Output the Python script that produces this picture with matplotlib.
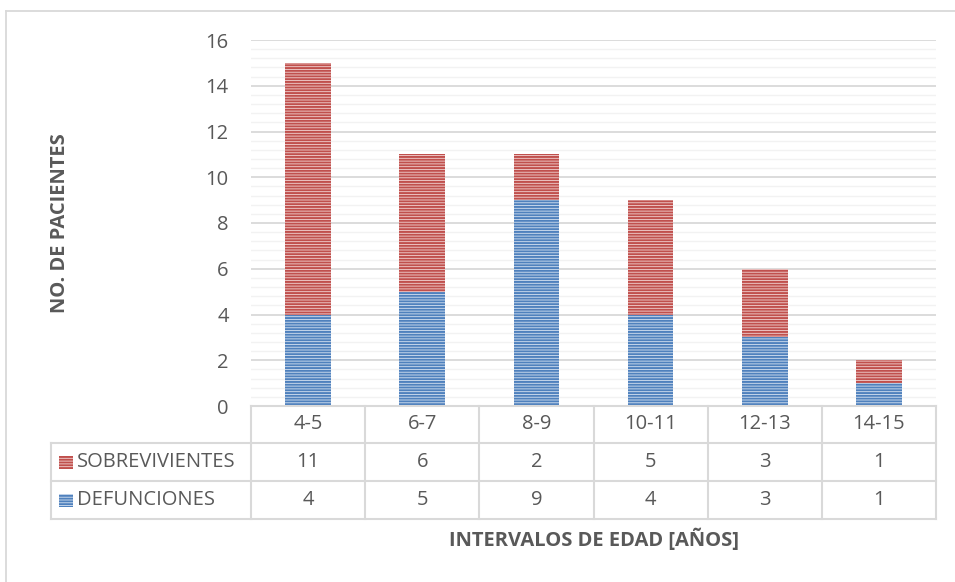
import numpy as np
import matplotlib.pyplot as plt
from matplotlib.lines import Line2D
from matplotlib.patches import Rectangle
from matplotlib.ticker import MultipleLocator

plt.rcParams['font.family'] = ['Open Sans', 'DejaVu Sans']
plt.rcParams['hatch.linewidth'] = 1.4

grupos = ['4-5', '6-7', '8-9', '10-11', '12-13', '14-15']
defunciones = [4, 5, 9, 4, 3, 1]
sobrevivientes = [11, 6, 2, 5, 3, 1]
series = ['SOBREVIVIENTES', 'DEFUNCIONES']

texto = '#595959'
linea = '#D9D9D9'
rojo, rojo_claro = '#C0504D', '#F2D4D3'
azul, azul_claro = '#4F81BD', '#D6E2F1'

W, H = 955, 582
fig = plt.figure(figsize=(W / 100, H / 100), dpi=100)

# marco exterior del grafico
fig.add_artist(Line2D([5.5 / W, 5.5 / W], [0, 1 - 10.7 / H], color=linea, lw=1.3))
fig.add_artist(Line2D([5.5 / W, 1], [1 - 10.7 / H, 1 - 10.7 / H], color=linea, lw=1.3))

x0, x1 = 251, 936
y_top, y_base = 40, 406
ax = fig.add_axes([x0 / W, 1 - y_base / H, (x1 - x0) / W, (y_base - y_top) / H])

x = np.arange(len(grupos))
ax.bar(x, defunciones, 0.4, facecolor=azul_claro, edgecolor=azul, hatch='------', lw=0, zorder=3)
ax.bar(x, sobrevivientes, 0.4, bottom=defunciones, facecolor=rojo_claro, edgecolor=rojo,
       hatch='------', lw=0, zorder=3)

ax.set_xlim(-0.5, len(grupos) - 0.5)
ax.set_ylim(0, 16)
ax.yaxis.set_major_locator(MultipleLocator(2))
ax.yaxis.set_minor_locator(MultipleLocator(0.4))
ax.grid(axis='y', which='major', color=linea, lw=1.3, zorder=1)
ax.grid(axis='y', which='minor', color='#F2F2F2', lw=1.0, zorder=0)
ax.set_xticks([])
ax.tick_params(axis='y', which='both', length=0, pad=16, labelsize=14.5, labelcolor=texto)
for s in ['top', 'right', 'left']:
    ax.spines[s].set_visible(False)
ax.spines['bottom'].set_color(linea)
ax.spines['bottom'].set_linewidth(1.3)

# tabla de datos bajo el eje
cat_px = (x1 - x0) / len(grupos)
tl = 51
t_bottom = 519
tab = fig.add_axes([tl / W, 1 - t_bottom / H, (x1 - tl) / W, (t_bottom - y_base) / H])
xmin = -0.5 - (x0 - tl) / cat_px
tab.set_xlim(xmin, len(grupos) - 0.5)
tab.set_ylim(0, 3)
tab.invert_yaxis()
tab.axis('off')

row_edges = [0, (443 - 406) / 37.7, (481.5 - 406) / 37.7, 3]
kw = dict(color=linea, lw=1.5, clip_on=False)
# bordes horizontales
tab.plot([-0.5, len(grupos) - 0.5], [0, 0], **kw)
for r in row_edges[1:]:
    tab.plot([xmin, len(grupos) - 0.5], [r, r], **kw)
# bordes verticales
for c in np.arange(-0.5, len(grupos), 1):
    tab.plot([c, c], [0, 3], **kw)
tab.plot([xmin, xmin], [row_edges[1], 3], **kw)

fs = 14.5
for i, g in enumerate(grupos):
    tab.text(i, (row_edges[0] + row_edges[1]) / 2, g, ha='center', va='center', fontsize=fs, color=texto)
    tab.text(i, (row_edges[1] + row_edges[2]) / 2, str(sobrevivientes[i]), ha='center', va='center',
             fontsize=fs, color=texto)
    tab.text(i, (row_edges[2] + row_edges[3]) / 2, str(defunciones[i]), ha='center', va='center',
             fontsize=fs, color=texto)

# claves de la leyenda dentro de la tabla
key_w = 14 / cat_px
for k, (nombre, fc, ec) in enumerate([(series[0], rojo_claro, rojo), (series[1], azul_claro, azul)]):
    yc = (row_edges[k + 1] + row_edges[k + 2]) / 2
    kx = xmin + 8 / cat_px
    tab.add_patch(Rectangle((kx, yc - 0.17), key_w, 0.34, facecolor=fc, edgecolor=ec,
                            hatch='------', lw=0, clip_on=False))
    tab.text(kx + key_w + 4 / cat_px, yc, nombre, ha='left', va='center', fontsize=fs, color=texto)

fig.text(60 / W, 1 - 223 / H, 'NO. DE PACIENTES', rotation=90, ha='center', va='center',
         fontsize=14.5, fontweight='bold', color=texto)
fig.text((x0 + x1) / 2 / W, 1 - 540 / H, 'INTERVALOS DE EDAD [AÑOS]', ha='center', va='center',
         fontsize=14.5, fontweight='bold', color=texto)

fig.savefig('out.png', dpi=100)
